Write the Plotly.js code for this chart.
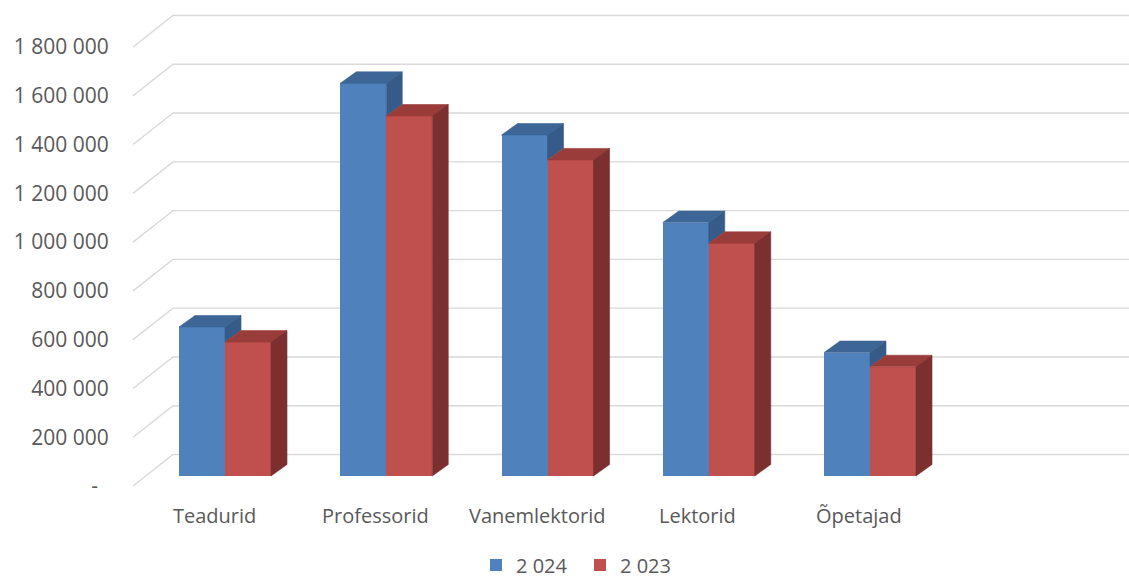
<!DOCTYPE html>
<html>
<head>
<meta charset="utf-8">
<script src="https://cdn.plot.ly/plotly-3.0.1.min.js"></script>
<style>
  html, body { margin: 0; padding: 0; background: #ffffff; }
  #chart { width: 1129px; height: 581px; }
</style>
</head>
<body>
<div id="chart"></div>
<script>
// ---- Data ----
const categories = ['Teadurid', 'Professorid', 'Vanemlektorid', 'Lektorid', 'Õpetajad'];
const seriesNames = ['2 024', '2 023'];
const values2024 = [611000, 1610000, 1398000, 1039000, 506000];
const values2023 = [549000, 1476000, 1296000, 954000, 448000];
const yTickVals = [0, 200000, 400000, 600000, 800000, 1000000, 1200000, 1400000, 1600000, 1800000];
const yTickText = ['-\u00a0\u00a0', '200 000', '400 000', '600 000', '800 000', '1 000 000', '1 200 000', '1 400 000', '1 600 000', '1 800 000'];

// ---- Geometry / style settings ----
const W = 1129, H = 581;
const L = 118;                 // left margin (px)
const zeroPx = 486;            // pixel row of value 0 on the front plane
const topPx = 47;              // pixel row of 1 800 000 on the front plane
const PX = 1800000 / (zeroPx - topPx);   // value units per pixel
const yMin = -(H - zeroPx) * PX, yMax = zeroPx * PX;

const slot0 = 225, slotStep = 161.25; // divider of the bar pair in each slot
const barW = 46;
const baseLift = 10 * PX;      // bar fronts sit 10px behind the floor's front edge
const depthDX = 16, depthDY = 11.5 * PX;   // depth of each bar
const wallDX = 40, wallDY = 31.5 * PX;     // depth of the floor / back wall
const wallX0 = 133, wallX1 = wallX0 + wallDX;

const colors = {
  blue:  { front: '#4F81BD', top: '#3D6697', side: '#375B89' },
  red:   { front: '#C0504D', top: '#9A3C39', side: '#7B2F2E' }
};
const textColor = '#595959';
const fontFam = '"Open Sans", "Noto Sans", "DejaVu Sans", sans-serif';

function poly(xs, ys, color) {
  return {
    type: 'scatter', mode: 'lines', x: xs.concat([xs[0]]), y: ys.concat([ys[0]]),
    fill: 'toself', fillcolor: color, line: { width: 0.6, color: color },
    hoverinfo: 'skip', showlegend: false
  };
}

const centers = categories.map((c, i) => slot0 + i * slotStep);
const blueX = centers.map(c => c - barW / 2);
const redX = centers.map(c => c + barW / 2);

const traces = [];
// front faces as real bar traces
traces.push({
  type: 'bar', name: seriesNames[0], x: blueX, y: values2024,
  base: values2024.map(() => baseLift), width: barW,
  marker: { color: colors.blue.front, line: { width: 0 } }, hoverinfo: 'x+y'
});
traces.push({
  type: 'bar', name: seriesNames[1], x: redX, y: values2023,
  base: values2023.map(() => baseLift), width: barW,
  marker: { color: colors.red.front, line: { width: 0 } }, hoverinfo: 'x+y'
});

// 3D side / top faces computed from the values
categories.forEach((c, i) => {
  const tb = baseLift + values2024[i];
  const tr = baseLift + values2023[i];
  const bl = blueX[i] - barW / 2, br = blueX[i] + barW / 2;
  const rl = redX[i] - barW / 2, rr = redX[i] + barW / 2;
  traces.push(poly([bl, br, br + depthDX, bl + depthDX], [tb, tb, tb + depthDY, tb + depthDY], colors.blue.top));
  const lowB = Math.min(tb, tr);
  traces.push(poly([br, br + depthDX, br + depthDX, br], [tb, tb + depthDY, lowB + depthDY, lowB], colors.blue.side));
  traces.push(poly([rl, rr, rr + depthDX, rl + depthDX], [tr, tr, tr + depthDY, tr + depthDY], colors.red.top));
  traces.push(poly([rr, rr + depthDX, rr + depthDX, rr], [baseLift, baseLift + depthDY, tr + depthDY, tr], colors.red.side));
});

// wall / floor gridlines
const shapes = yTickVals.map(v => ({
  type: 'path', xref: 'x', yref: 'y', layer: 'below',
  path: 'M' + wallX0 + ',' + v + ' L' + wallX1 + ',' + (v + wallDY) + ' L' + W + ',' + (v + wallDY),
  line: { color: '#D9D9D9', width: 1.4 }
}));

// category labels
const labelY = -(515 - zeroPx) * PX;
const annotations = categories.map((c, i) => ({
  x: centers[i] - 11, y: labelY, xref: 'x', yref: 'y', text: c, showarrow: false,
  xanchor: 'center', yanchor: 'middle', font: { family: fontFam, size: 20, color: textColor }
}));

const layout = {
  width: W, height: H,
  margin: { l: L, r: 0, t: 0, b: 0, pad: 0, autoexpand: false },
  paper_bgcolor: '#ffffff', plot_bgcolor: '#ffffff',
  barmode: 'overlay', bargap: 0,
  showlegend: true,
  legend: {
    orientation: 'h', x: (476 - L) / (W - L), xanchor: 'left',
    y: (H - 565) / H, yanchor: 'middle',
    entrywidth: 59, entrywidthmode: 'pixels',
    font: { family: fontFam, size: 20, color: textColor },
    traceorder: 'normal', bgcolor: 'rgba(0,0,0,0)'
  },
  xaxis: { visible: false, range: [L, W], fixedrange: true },
  yaxis: {
    range: [yMin, yMax], fixedrange: true,
    showgrid: false, zeroline: false, showline: false,
    tickmode: 'array', tickvals: yTickVals, ticktext: yTickText,
    ticks: 'outside', ticklen: 4, tickcolor: 'rgba(0,0,0,0)',
    tickfont: { family: fontFam, size: 21, color: textColor }
  },
  shapes: shapes,
  annotations: annotations
};

Plotly.newPlot('chart', traces, layout, { displayModeBar: false, staticPlot: true });
</script>
</body>
</html>
